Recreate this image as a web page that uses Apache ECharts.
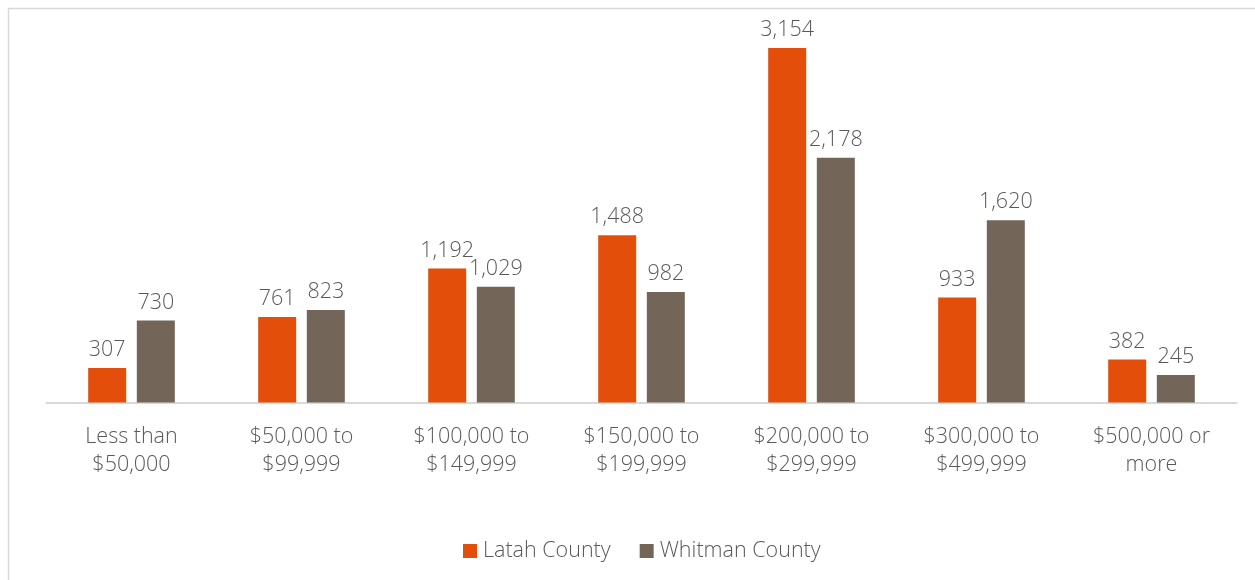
<!DOCTYPE html>
<html>
<head>
<meta charset="utf-8">
<script src="https://cdn.jsdelivr.net/npm/echarts@6/dist/echarts.min.js"></script>
<style>
html,body{margin:0;padding:0;background:#fff;}
#chart{width:1255px;height:580px;}
</style>
</head>
<body>
<div id="chart"></div>
<script>
const categories = ["Less than\n$50,000", "$50,000 to\n$99,999", "$100,000 to\n$149,999", "$150,000 to\n$199,999", "$200,000 to\n$299,999", "$300,000 to\n$499,999", "$500,000 or\nmore"];
const latahCounty = [307, 761, 1192, 1488, 3154, 933, 382];
const whitmanCounty = [730, 823, 1029, 982, 2178, 1620, 245];
const seriesNames = ["Latah County", "Whitman County"];

const FONT = '"Open Sans", "Noto Sans", sans-serif';
const TXT = '#595959';
const FS = 21.5;
const chart = echarts.init(document.getElementById('chart'), null, {renderer: 'canvas'});
const labelCfg = {
  show: true, position: 'top', distance: 7,
  color: TXT, fontFamily: FONT, fontSize: FS, fontWeight: 300,
  formatter: p => p.value.toLocaleString('en-US')
};
chart.setOption({
  animation: false,
  backgroundColor: '#ffffff',
  graphic: [{
    type: 'rect', shape: {x: 8.5, y: 8.5, width: 1270, height: 600},
    style: {fill: 'none', stroke: '#D9D9D9', lineWidth: 1.5}, silent: true
  }],
  grid: {left: 46.5, right: 18.5, top: 9, bottom: 177.5, containLabel: false},
  legend: {
    data: seriesNames, bottom: 13, left: 458,
    itemWidth: 14, itemHeight: 14, itemGap: 29,
    icon: 'rect',
    textStyle: {color: TXT, fontFamily: FONT, fontSize: FS, fontWeight: 300, padding: [0, 0, 0, 1]}
  },
  xAxis: {
    type: 'category', data: categories,
    axisLine: {show: true, lineStyle: {color: '#D9D9D9', width: 2}},
    axisTick: {show: false},
    axisLabel: {color: TXT, fontFamily: FONT, fontSize: FS, fontWeight: 300, lineHeight: 28, margin: 20, interval: 0}
  },
  yAxis: {
    type: 'value', min: 0, max: 3500, interval: 500,
    show: false, splitLine: {show: false}
  },
  series: [
    {name: seriesNames[0], type: 'bar', data: latahCounty, barWidth: 38, barGap: '28%',
     itemStyle: {color: '#E34F0B'}, label: labelCfg},
    {name: seriesNames[1], type: 'bar', data: whitmanCounty, barWidth: 38,
     itemStyle: {color: '#736659'}, label: labelCfg}
  ]
});
</script>
</body>
</html>
